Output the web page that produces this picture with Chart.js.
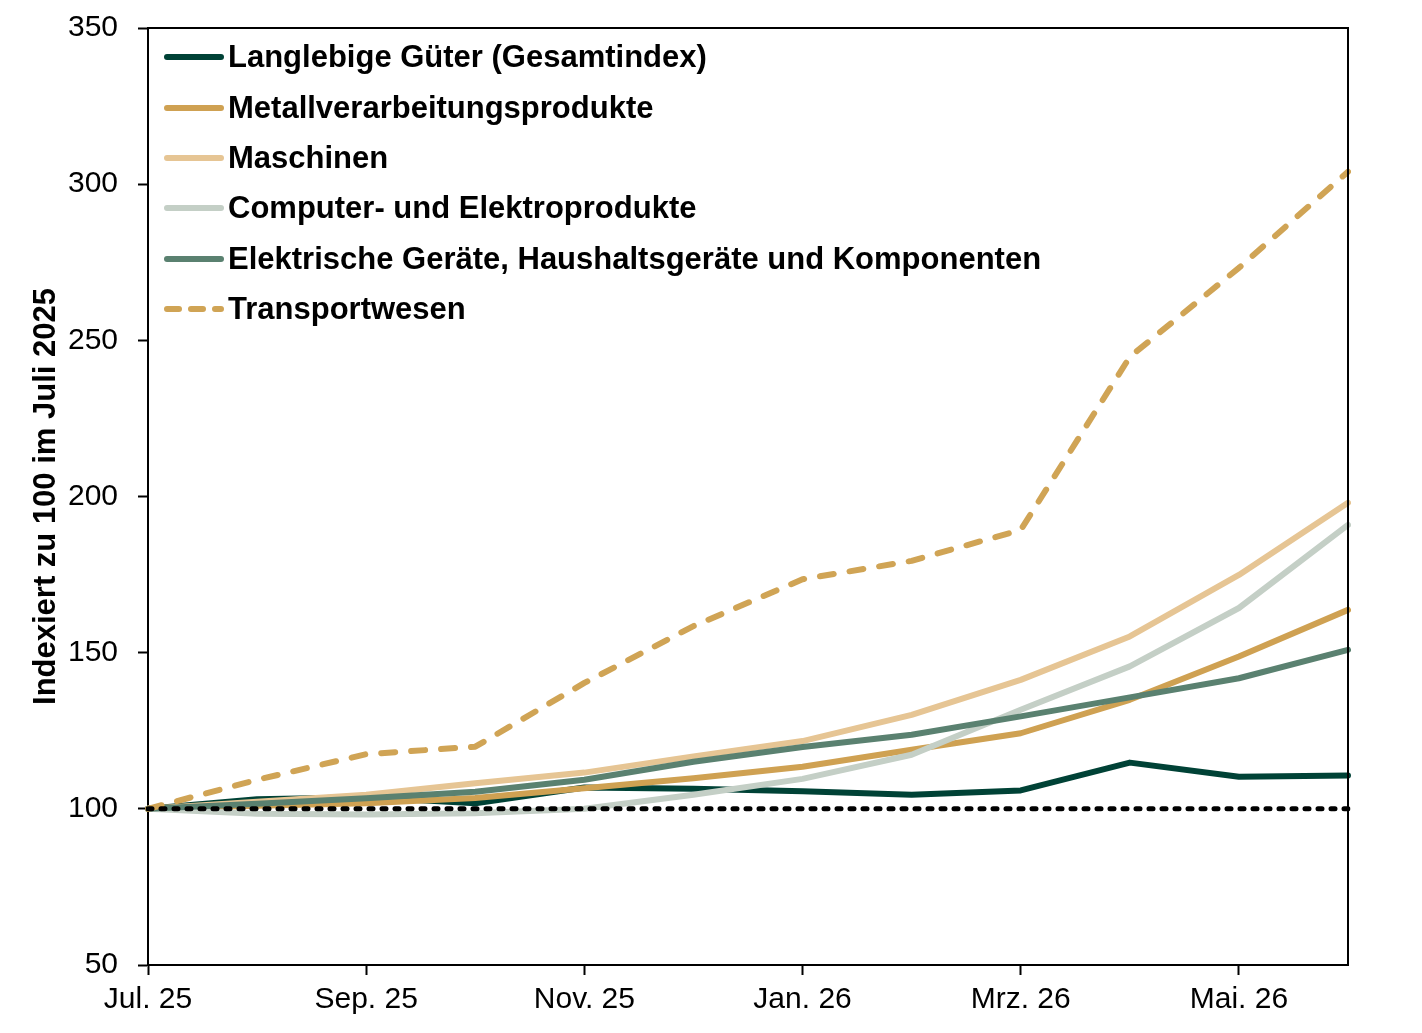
<!DOCTYPE html>
<html>
<head>
<meta charset="utf-8">
<script src="https://cdn.jsdelivr.net/npm/chart.js@4/dist/chart.umd.min.js"></script>
<style>
  html, body { margin: 0; padding: 0; background: #fff; }
  #wrap { position: relative; width: 1422px; height: 1033px; }
  #legend { position: absolute; left: 163px; top: 32px; font-family: "Liberation Sans", Arial, sans-serif; font-weight: bold; font-size: 31px; color: #000; }
  #legend .row { height: 50.4px; display: flex; align-items: center; }
  #legend svg { margin-right: 3px; }
</style>
</head>
<body>
<div id="wrap">
  <canvas id="lineChart" width="1422" height="1033"></canvas>
  <div id="legend"></div>
</div>
<script>
/* monthly index, Juli 2025 = 100 */
const months = ['Jul. 25', 'Aug. 25', 'Sep. 25', 'Okt. 25', 'Nov. 25', 'Dez. 25',
                'Jan. 26', 'Feb. 26', 'Mrz. 26', 'Apr. 26', 'Mai. 26', 'Jun. 26'];

const langlebige  = [100, 103.1, 103.7, 101.8, 106.8, 106.4, 105.6, 104.5, 105.9, 114.8, 110.3, 110.7];
const metall      = [100, 101.0, 101.8, 103.5, 106.6, 109.8, 113.5, 118.9, 124.2, 134.9, 148.8, 163.7];
const maschinen   = [100, 102.3, 104.5, 108.2, 111.6, 116.8, 121.7, 130.1, 141.3, 155.2, 174.9, 198.0];
const computer    = [100, 98.4, 98.2, 98.6, 100.0, 104.5, 109.6, 117.3, 131.7, 145.6, 164.3, 190.9];
const elektrische = [100, 101.6, 103.4, 105.5, 109.3, 115.1, 119.8, 123.7, 129.6, 135.7, 141.8, 150.9];
const transport   = [100, 109.3, 117.5, 119.9, 140.3, 158.5, 173.5, 179.4, 189.3, 244.7, 273.2, 304.0];
const baseline    = [100, 100, 100, 100, 100, 100, 100, 100, 100, 100, 100, 100];

const yTicks = [50, 100, 150, 200, 250, 300, 350];

const FONT = '"Liberation Sans", Arial, sans-serif';

const series = [
    { label: 'Langlebige Güter (Gesamtindex)', data: langlebige, color: '#004236', dash: [], order: 6 },
    { label: 'Metallverarbeitungsprodukte', data: metall, color: '#CFA152', dash: [], order: 5 },
    { label: 'Maschinen', data: maschinen, color: '#E6C594', dash: [], order: 4 },
    { label: 'Computer- und Elektroprodukte', data: computer, color: '#C4CFC6', dash: [], order: 3 },
    { label: 'Elektrische Geräte, Haushaltsgeräte und Komponenten', data: elektrische, color: '#5A8170', dash: [], order: 2 },
    { label: 'Transportwesen', data: transport, color: '#D0A455', dash: [14, 16], order: 1 }
];

const datasets = series.map(s => ({
    label: s.label,
    data: s.data,
    borderColor: s.color,
    backgroundColor: s.color,
    borderWidth: 6,
    borderDash: s.dash,
    borderCapStyle: 'round',
    borderJoinStyle: 'round',
    pointRadius: 0,
    tension: 0,
    order: s.order
}));

// dashed 100 reference line on top
datasets.push({
    label: 'Basis',
    data: baseline,
    borderColor: '#000',
    borderWidth: 5,
    borderDash: [4, 9],
    borderCapStyle: 'round',
    pointRadius: 0,
    order: 0
});

// box around the plot area (top and right edges)
const frame = {
    id: 'frame',
    afterDatasetsDraw(chart) {
        const a = chart.chartArea, c = chart.ctx;
        c.save();
        c.strokeStyle = '#000';
        c.lineWidth = 2;
        c.beginPath();
        c.moveTo(a.left, a.top);
        c.lineTo(a.right, a.top);
        c.lineTo(a.right, a.bottom);
        c.stroke();
        c.restore();
    }
};

new Chart(document.getElementById('lineChart').getContext('2d'), {
    type: 'line',
    data: { labels: months, datasets: datasets },
    plugins: [frame],
    options: {
        responsive: false,
        animation: false,
        layout: { padding: { top: 28, right: 74, left: 0, bottom: 0 } },
        plugins: { legend: { display: false }, tooltip: { enabled: false } },
        scales: {
            x: {
                offset: false,
                afterFit: s => { s.height = 68; s.paddingLeft = 0; s.paddingRight = 0; },
                border: { display: true, color: '#000', width: 2 },
                grid: {
                    drawOnChartArea: false,
                    drawTicks: true,
                    tickLength: 10,
                    tickWidth: 2,
                    tickColor: ctx => (ctx.index % 2 === 0 ? '#000' : 'rgba(0,0,0,0)')
                },
                ticks: {
                    autoSkip: false,
                    maxRotation: 0,
                    padding: 7,
                    color: '#000',
                    font: { family: FONT, size: 30 },
                    callback: (v, i) => (i % 2 === 0 ? months[i] : '')
                }
            },
            y: {
                min: 50,
                max: 350,
                afterFit: s => { s.width = 148; s.paddingTop = 0; s.paddingBottom = 0; },
                afterBuildTicks: s => { s.ticks = yTicks.map(v => ({ value: v })); },
                border: { display: true, color: '#000', width: 2 },
                grid: { drawOnChartArea: false, drawTicks: true, tickLength: 10, tickWidth: 2, tickColor: '#000' },
                ticks: { padding: 20, color: '#000', font: { family: FONT, size: 30 } },
                title: {
                    display: true,
                    text: 'Indexiert zu 100 im Juli 2025',
                    color: '#000',
                    font: { family: FONT, size: 31, weight: 'bold' },
                    padding: { top: 28, bottom: 0 }
                }
            }
        }
    }
});

// legend as html, built from the series list
const legend = document.getElementById('legend');
series.forEach(s => {
    const row = document.createElement('div');
    row.className = 'row';
    const dash = s.dash.length ? ' stroke-dasharray="12 12"' : '';
    row.innerHTML = '<svg width="62" height="10"><line x1="4" y1="5" x2="58" y2="5" stroke="' + s.color +
        '" stroke-width="6" stroke-linecap="round"' + dash + '/></svg><span>' + s.label + '</span>';
    legend.appendChild(row);
});
</script>
</body>
</html>
